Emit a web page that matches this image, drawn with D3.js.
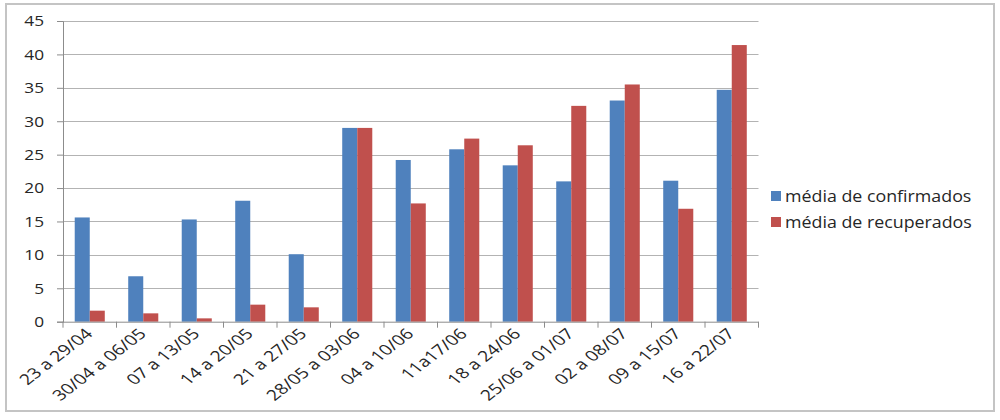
<!DOCTYPE html>
<html>
<head>
<meta charset="utf-8">
<script src="https://cdn.jsdelivr.net/npm/d3@7"></script>
<style>
  body { margin: 0; background: #fff; }
  svg { display: block; }
  text { font-family: "Open Sans", sans-serif; fill: #262626; }
</style>
</head>
<body>
<svg id="chart" width="1000" height="420"></svg>
<script>
// semanas
var categories = ["23 a 29/04", "30/04 a 06/05", "07 a 13/05", "14 a 20/05", "21 a 27/05",
  "28/05 a 03/06", "04 a 10/06", "11a17/06", "18 a 24/06", "25/06 a 01/07",
  "02 a 08/07", "09 a 15/07", "16 a 22/07"];
var confirmados = [15.6, 6.8, 15.3, 18.1, 10.1, 29.0, 24.2, 25.8, 23.4, 21.0, 33.1, 21.1, 34.7];
var recuperados = [1.65, 1.25, 0.5, 2.55, 2.15, 29.0, 17.7, 27.4, 26.4, 32.3, 35.5, 16.9, 41.4];
var seriesNames = ["média de confirmados", "média de recuperados"];
var seriesColors = ["#4F81BD", "#C0504D"];
var yTicks = [0, 5, 10, 15, 20, 25, 30, 35, 40, 45];

var svg = d3.select("#chart");
var pLeft = 63, pRight = 758.5, pTop = 21, pBottom = 321.7;
var sx = 1.15; // texto um pouco esticado na horizontal

// moldura
svg.append("rect").attr("x", 6).attr("y", 4).attr("width", 988).attr("height", 407)
  .attr("fill", "none").attr("stroke", "#c4c4c4").attr("stroke-width", 2);

var x = d3.scaleBand().domain(categories).range([pLeft, pRight]);
var xs = d3.scaleBand().domain([0, 1]).range([0, x.bandwidth()]).paddingInner(0).paddingOuter(0.78);
var y = d3.scaleLinear().domain([0, 45]).range([pBottom, pTop]);

// grade
svg.append("g").selectAll("line").data(yTicks.slice(1)).enter().append("line")
  .attr("x1", pLeft).attr("x2", pRight)
  .attr("y1", function(d){ return Math.round(y(d)) + 0.5; })
  .attr("y2", function(d){ return Math.round(y(d)) + 0.5; })
  .attr("stroke", "#b3b3b3").attr("stroke-width", 1.2);

// eixo y
var yAxis = svg.append("g").attr("transform", "translate(" + pLeft + ",0)")
  .call(d3.axisLeft(y).tickValues(yTicks).tickSize(6).tickPadding(0));
yAxis.select(".domain").attr("stroke", "#8c8c8c");
yAxis.selectAll(".tick line").attr("stroke", "#8c8c8c");
yAxis.selectAll(".tick text").attr("font-size", 15).attr("font-family", "Open Sans, sans-serif")
  .attr("fill", "#262626").attr("x", null)
  .attr("transform", "translate(-19,0) scale(" + sx + ",1)");

// barras
var data = categories.map(function(c, i){ return {cat: c, vals: [confirmados[i], recuperados[i]]}; });
var groups = svg.append("g").selectAll("g").data(data).enter().append("g")
  .attr("transform", function(d){ return "translate(" + x(d.cat) + ",0)"; });
groups.selectAll("rect").data(function(d){ return d.vals.map(function(v, k){ return {k: k, v: v}; }); })
  .enter().append("rect")
  .attr("x", function(d){ return xs(d.k); })
  .attr("width", xs.bandwidth())
  .attr("y", function(d){ return y(d.v); })
  .attr("height", function(d){ return y(0) - y(d.v); })
  .attr("fill", function(d){ return seriesColors[d.k]; });

// eixo x
var xAxisG = svg.append("g").attr("transform", "translate(0," + pBottom + ")");
xAxisG.append("line").attr("x1", pLeft).attr("x2", pRight).attr("y1", 0.5).attr("y2", 0.5)
  .attr("stroke", "#8c8c8c");
xAxisG.selectAll(".tk").data(d3.range(categories.length + 1)).enter().append("line")
  .attr("x1", function(i){ return pLeft + i * x.step(); })
  .attr("x2", function(i){ return pLeft + i * x.step(); })
  .attr("y1", 0).attr("y2", 6).attr("stroke", "#8c8c8c");
xAxisG.selectAll("text").data(categories).enter().append("text")
  .attr("transform", function(d){
    return "translate(" + (x(d) + x.bandwidth() / 2 + 4) + ",13) scale(1.3,1) rotate(-45)";
  })
  .attr("text-anchor", "end").attr("font-size", 14.8).text(function(d){ return d; });

// legenda
var legend = svg.append("g").attr("transform", "translate(771,196)");
seriesNames.forEach(function(name, i){
  legend.append("rect").attr("x", 0).attr("y", i * 26 - 5).attr("width", 10).attr("height", 10)
    .attr("fill", seriesColors[i]);
  legend.append("text").attr("transform", "translate(14," + (i * 26 + 5.5) + ") scale(" + sx + ",1)")
    .attr("font-size", 15.5).text(name);
});
</script>
</body>
</html>
